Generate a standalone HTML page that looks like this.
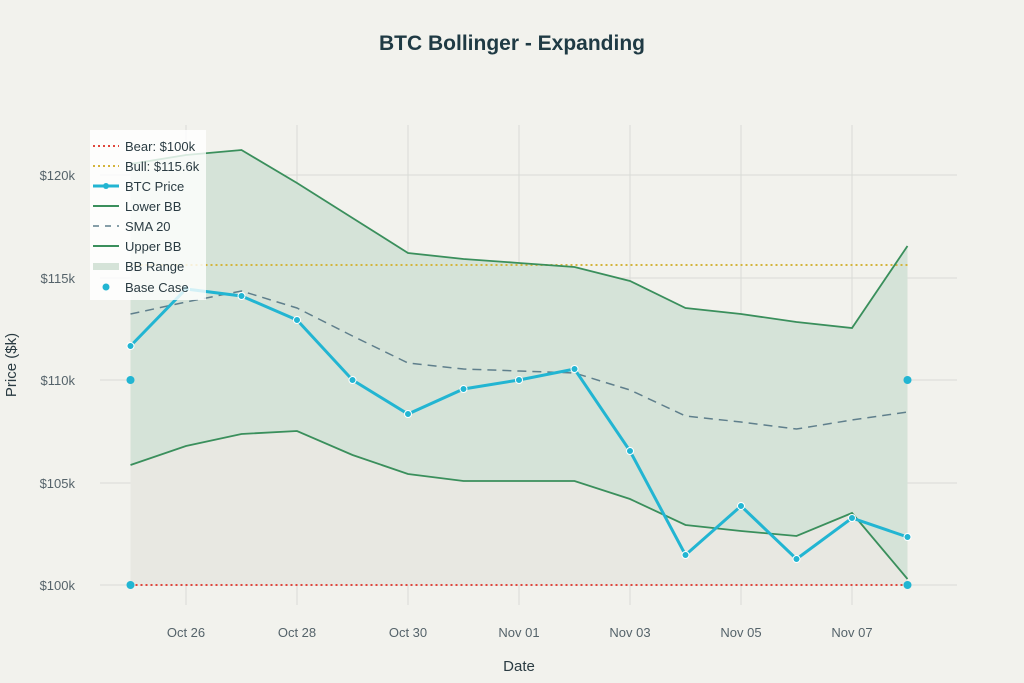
<!DOCTYPE html>
<html><head><style>body{margin:0;background:#f2f2ed;}svg{display:block;font-family:"Liberation Sans",sans-serif;}</style></head><body>
<svg width="1024" height="683" viewBox="0 0 1024 683">
<rect width="1024" height="683" fill="#f2f2ed"/>
<text x="512" y="50" text-anchor="middle" font-size="21" font-weight="bold" fill="#1f3a44">BTC Bollinger - Expanding</text>
<g stroke="#d9dbd6" stroke-width="1">
<line x1="100" y1="585" x2="957" y2="585"/><line x1="100" y1="483" x2="957" y2="483"/><line x1="100" y1="380" x2="957" y2="380"/><line x1="100" y1="278" x2="957" y2="278"/><line x1="100" y1="175" x2="957" y2="175"/>
<line x1="186" y1="125" x2="186" y2="605"/><line x1="297" y1="125" x2="297" y2="605"/><line x1="408" y1="125" x2="408" y2="605"/><line x1="519" y1="125" x2="519" y2="605"/><line x1="630" y1="125" x2="630" y2="605"/><line x1="741" y1="125" x2="741" y2="605"/><line x1="852" y1="125" x2="852" y2="605"/>
</g>
<g font-size="13" fill="#55636a" text-anchor="end">
<text x="75" y="590">$100k</text><text x="75" y="488">$105k</text><text x="75" y="385">$110k</text><text x="75" y="283">$115k</text><text x="75" y="180">$120k</text>
</g>
<g font-size="13" fill="#55636a" text-anchor="middle">
<text x="186" y="637">Oct 26</text><text x="297" y="637">Oct 28</text><text x="408" y="637">Oct 30</text><text x="519" y="637">Nov 01</text><text x="630" y="637">Nov 03</text><text x="741" y="637">Nov 05</text><text x="852" y="637">Nov 07</text>
</g>
<text x="519" y="671" text-anchor="middle" font-size="15" fill="#2a3b42">Date</text>
<text transform="translate(16,365) rotate(-90)" text-anchor="middle" font-size="15" fill="#2a3b42">Price ($k)</text>
<polygon fill="#e8e8e2" points="130.5,585 130.5,465 186,446 241.5,434 297,431 352.5,455 408,474 463.5,481 519,481 574.5,481 630,499 685.5,525 741,531 796.5,536 852,513 907.5,579 907.5,585"/>
<polygon fill="#d5e3d8" points="130.5,164 186,155 241.5,150 297,183 352.5,218 408,253 463.5,259 519,263 574.5,267 630,281 685.5,308 741,314 796.5,322 852,328 907.5,246 907.5,579 852,513 796.5,536 741,531 685.5,525 630,499 574.5,481 519,481 463.5,481 408,474 352.5,455 297,431 241.5,434 186,446 130.5,465"/>
<line x1="130.5" y1="585" x2="907.5" y2="585" stroke="#e0463c" stroke-width="2" stroke-dasharray="2,3"/>
<line x1="130.5" y1="265" x2="907.5" y2="265" stroke="#d4b43c" stroke-width="2" stroke-dasharray="2,3"/>
<polyline fill="none" stroke="#3a8f5c" stroke-width="1.8" points="130.5,164 186,155 241.5,150 297,183 352.5,218 408,253 463.5,259 519,263 574.5,267 630,281 685.5,308 741,314 796.5,322 852,328 907.5,246"/>
<polyline fill="none" stroke="#3a8f5c" stroke-width="1.8" points="130.5,465 186,446 241.5,434 297,431 352.5,455 408,474 463.5,481 519,481 574.5,481 630,499 685.5,525 741,531 796.5,536 852,513 907.5,579"/>
<polyline fill="none" stroke="#5f7f8c" stroke-width="1.5" stroke-dasharray="9,6" points="130.5,314 186,302 241.5,291 297,308 352.5,336 408,363 463.5,369 519,371 574.5,373 630,390 685.5,416 741,422 796.5,429 852,420 907.5,412"/>
<polyline fill="none" stroke="#22b5d2" stroke-width="3" points="130.5,346 186,289 241.5,296 297,320 352.5,380 408,414 463.5,389 519,380 574.5,369 630,451 685.5,555 741,506 796.5,559 852,518 907.5,537"/>
<g fill="#22b5d2" stroke="#fff" stroke-width="1">
<circle cx="130.5" cy="346" r="3.5"/><circle cx="186" cy="289" r="3.5"/><circle cx="241.5" cy="296" r="3.5"/><circle cx="297" cy="320" r="3.5"/><circle cx="352.5" cy="380" r="3.5"/><circle cx="408" cy="414" r="3.5"/><circle cx="463.5" cy="389" r="3.5"/><circle cx="519" cy="380" r="3.5"/><circle cx="574.5" cy="369" r="3.5"/><circle cx="630" cy="451" r="3.5"/><circle cx="685.5" cy="555" r="3.5"/><circle cx="741" cy="506" r="3.5"/><circle cx="796.5" cy="559" r="3.5"/><circle cx="852" cy="518" r="3.5"/><circle cx="907.5" cy="537" r="3.5"/>
</g>
<g fill="#22b5d2"><circle cx="130.5" cy="380" r="4"/><circle cx="130.5" cy="585" r="4"/><circle cx="907.5" cy="380" r="4"/><circle cx="907.5" cy="585" r="4"/></g>
<rect x="90" y="130" width="116" height="170" fill="#ffffff" fill-opacity="0.8"/>
<g font-size="13" fill="#2a3b42">
<line x1="93" y1="146" x2="119" y2="146" stroke="#e0463c" stroke-width="2" stroke-dasharray="2,3"/><text x="125" y="151">Bear: $100k</text>
<line x1="93" y1="166" x2="119" y2="166" stroke="#d4b43c" stroke-width="2" stroke-dasharray="2,3"/><text x="125" y="171">Bull: $115.6k</text>
<line x1="93" y1="186" x2="119" y2="186" stroke="#22b5d2" stroke-width="3"/><circle cx="106" cy="186" r="3" fill="#22b5d2"/><text x="125" y="191">BTC Price</text>
<line x1="93" y1="206" x2="119" y2="206" stroke="#3a8f5c" stroke-width="2"/><text x="125" y="211">Lower BB</text>
<line x1="93" y1="226" x2="119" y2="226" stroke="#5f7f8c" stroke-width="1.5" stroke-dasharray="6,6"/><text x="125" y="231">SMA 20</text>
<line x1="93" y1="246" x2="119" y2="246" stroke="#3a8f5c" stroke-width="2"/><text x="125" y="251">Upper BB</text>
<rect x="93" y="263" width="26" height="7" fill="#d5e3d8"/><text x="125" y="271">BB Range</text>
<circle cx="106" cy="287" r="3.5" fill="#22b5d2"/><text x="125" y="292">Base Case</text>
</g>
</svg>
</body></html>
